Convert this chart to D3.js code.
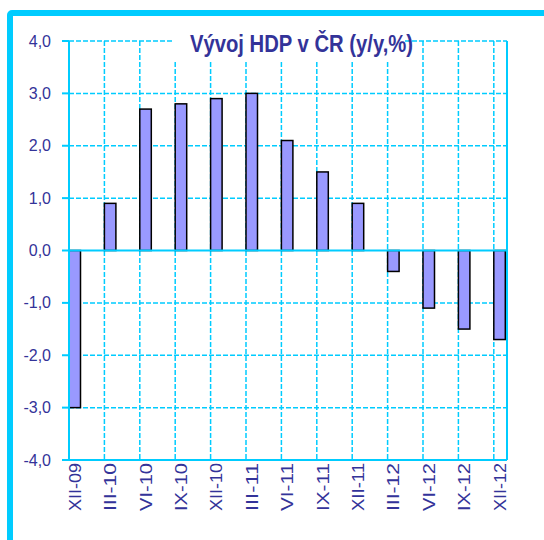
<!DOCTYPE html>
<html><head><meta charset="utf-8">
<script src="https://cdn.jsdelivr.net/npm/d3@7"></script>
<style>body{margin:0;background:#fff}svg{display:block}</style>
</head><body>
<svg id="c" width="544" height="540"></svg>
<script>
const categories = ["XII-09","III-10","VI-10","IX-10","XII-10","III-11","VI-11","IX-11","XII-11","III-12","VI-12","IX-12","XII-12"];
const values = [-3.0, 0.9, 2.7, 2.8, 2.9, 3.0, 2.1, 1.5, 0.9, -0.4, -1.1, -1.5, -1.7];
const yTicks = [-4,-3,-2,-1,0,1,2,3,4];
const title = "Vývoj HDP v ČR (y/y,%)";

const svg = d3.select("#c");
const cyan = "#00ccff", txt = "#333399";
const L = 69, R = 507, T = 41, B = 460, barW = 11.5;

// outer frame
svg.append("rect").attr("x",10).attr("y",13).attr("width",600).attr("height",600)
  .attr("fill","none").attr("stroke",cyan).attr("stroke-width",6).attr("rx",2);

const y = d3.scaleLinear().domain([-4,4]).range([B,T]);
const x = d3.scalePoint().domain(categories).range([L, L + 12*35.4]);

// horizontal gridlines
svg.append("g").selectAll("line").data(yTicks.filter(d=>d!==-4 && d!==0)).join("line")
  .attr("x1",L).attr("x2",R).attr("y1",d=>y(d)).attr("y2",d=>y(d))
  .attr("stroke",cyan).attr("stroke-width",1.5).attr("stroke-dasharray","5,2");
// vertical gridlines
svg.append("g").selectAll("line").data(categories.slice(1)).join("line")
  .attr("x1",d=>x(d)).attr("x2",d=>x(d)).attr("y1",T).attr("y2",B)
  .attr("stroke",cyan).attr("stroke-width",1.5).attr("stroke-dasharray","5,2");

// bars
svg.append("g").selectAll("rect").data(values).join("rect")
  .attr("x",(d,i)=>x(categories[i]))
  .attr("y",d=>y(Math.max(0,d)))
  .attr("width",barW)
  .attr("height",d=>Math.abs(y(d)-y(0)))
  .attr("fill","#9999ff").attr("stroke","#000").attr("stroke-width",1.5);

// axes lines
const g = svg.append("g").attr("stroke",cyan).attr("stroke-width",2);
g.append("line").attr("x1",L).attr("x2",L).attr("y1",T).attr("y2",B);
g.append("line").attr("x1",R).attr("x2",R).attr("y1",T).attr("y2",B);
g.append("line").attr("x1",L-7).attr("x2",R).attr("y1",B).attr("y2",B);
g.append("line").attr("x1",L).attr("x2",R).attr("y1",y(0)).attr("y2",y(0));
g.selectAll("line.t").data(yTicks).join("line").attr("class","t")
  .attr("x1",L-7).attr("x2",L).attr("y1",d=>y(d)).attr("y2",d=>y(d));

// y labels
const fmt = d => d3.format(".1f")(d).replace(".",",").replace("−","-");
svg.append("g").selectAll("text").data(yTicks).join("text")
  .attr("x",51).attr("y",d=>y(d)).attr("dy","0.35em")
  .attr("text-anchor","end").attr("fill",txt)
  .attr("font-family","Liberation Sans, Arial, sans-serif").attr("font-size",16)
  .text(fmt);

// x labels
svg.append("g").selectAll("text").data(categories).join("text")
  .attr("transform",d=>`translate(${x(d)+barW/2},${B+3}) rotate(-90)`)
  .attr("dy","0.35em").attr("text-anchor","end").attr("fill",txt)
  .attr("font-family","Liberation Sans, Arial, sans-serif").attr("font-size",17)
  .attr("textLength",48).attr("lengthAdjust","spacingAndGlyphs")
  .text(d=>d);

// title
svg.append("rect").attr("x",174).attr("y",28).attr("width",231).attr("height",34).attr("fill","#fff");
svg.append("text").attr("x",190).attr("y",52).attr("fill",txt)
  .attr("font-family","Liberation Sans, Arial, sans-serif").attr("font-weight","bold").attr("font-size",23)
  .attr("textLength",223).attr("lengthAdjust","spacingAndGlyphs")
  .text(title);
</script>
</body></html>
